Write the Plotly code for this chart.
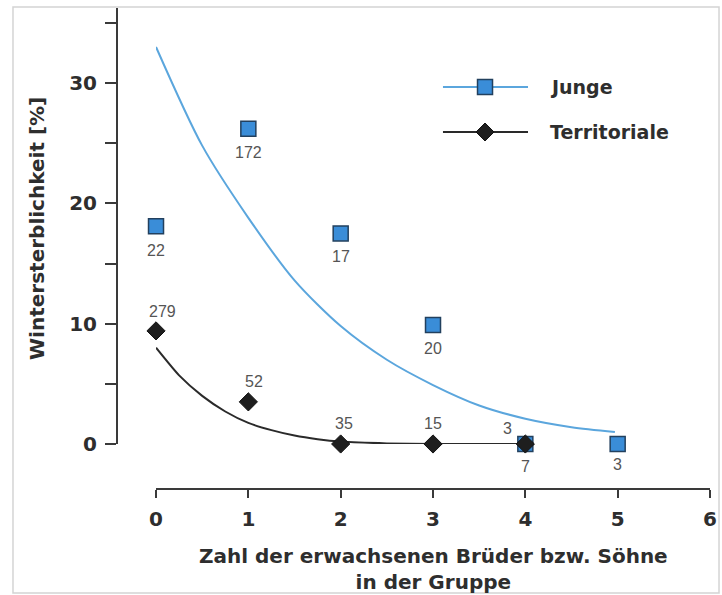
import plotly.graph_objects as go

# Winter mortality by number of adult brothers/sons in the group
group_size = [0, 1, 2, 3, 4, 5]

junge_mortality = [18.1, 26.2, 17.5, 9.9, 0.0, 0.0]
junge_n = [22, 172, 17, 20, 7, 3]

terr_size = [0, 1, 2, 3, 4]
terr_mortality = [9.4, 3.5, 0.0, 0.0, 0.0]
terr_n = [279, 52, 35, 15, 3]

# Fitted trend curves
junge_fit_x = [0, 0.5, 1, 1.5, 2, 2.5, 3, 3.5, 4, 4.5, 4.97]
junge_fit_y = [33.0, 24.8, 18.8, 13.6, 9.8, 7.0, 4.9, 3.2, 2.1, 1.4, 1.0]

terr_fit_x = [0, 0.25, 0.5, 0.75, 1, 1.25, 1.5, 1.75, 2, 2.5, 3, 3.5, 4]
terr_fit_y = [8.0, 5.7, 4.0, 2.7, 1.75, 1.15, 0.7, 0.4, 0.2, 0.05, 0.0, 0.0, 0.0]

x_ticks = [0, 1, 2, 3, 4, 5, 6]
y_ticks = [0, 5, 10, 15, 20, 25, 30, 35]
y_ticktext = ["0", "", "10", "", "20", "", "30", ""]

BLUE_LINE = "#5ba6dd"
BLUE_FILL = "#3a8dd8"
BLUE_EDGE = "#22405e"
DARK = "#1e1e1e"
AXIS = "#3a3a3a"
TEXT = "#2e2e2e"
BOLD = dict(family="DejaVu Sans", size=20, color=TEXT, weight="bold")

# label offsets in pixels (dx, dy)
junge_label_shift = [(0, -24), (0, -24), (0, -23), (0, -24), (0, -23), (0, -21)]
terr_label_shift = [(6, 19), (6, 20), (3, 20), (0, 20), (-18, 15)]

fig = go.Figure()

fig.add_trace(go.Scatter(
    x=junge_fit_x, y=junge_fit_y, mode="lines",
    line=dict(color=BLUE_LINE, width=2, shape="spline", smoothing=0.8),
    cliponaxis=False, hoverinfo="skip", showlegend=False))
fig.add_trace(go.Scatter(
    x=terr_fit_x, y=terr_fit_y, mode="lines",
    line=dict(color="#2a2a2a", width=2, shape="spline", smoothing=0.6),
    cliponaxis=False, hoverinfo="skip", showlegend=False))
fig.add_trace(go.Scatter(
    x=group_size, y=junge_mortality, mode="markers", name="Junge",
    marker=dict(symbol="square", size=15, color=BLUE_FILL,
                line=dict(color=BLUE_EDGE, width=1.5)),
    cliponaxis=False, showlegend=False))
fig.add_trace(go.Scatter(
    x=terr_size, y=terr_mortality, mode="markers", name="Territoriale",
    marker=dict(symbol="diamond", size=14, color=DARK,
                line=dict(color="#111111", width=1)),
    cliponaxis=False, showlegend=False))

label_font = dict(family="Liberation Sans", size=16, color="#555555")
for x, y, n, (dx, dy) in zip(group_size, junge_mortality, junge_n, junge_label_shift):
    fig.add_annotation(x=x, y=y, text=str(n), showarrow=False,
                       xshift=dx, yshift=dy, font=label_font)
for x, y, n, (dx, dy) in zip(terr_size, terr_mortality, terr_n, terr_label_shift):
    fig.add_annotation(x=x, y=y, text=str(n), showarrow=False,
                       xshift=dx, yshift=dy, font=label_font)

# axis titles
fig.add_annotation(xref="paper", yref="paper", x=-0.135, y=0.5426,
                   text="Wintersterblichkeit [%]", textangle=-90,
                   showarrow=False, xanchor="center", yanchor="middle", font=BOLD)
fig.add_annotation(xref="paper", yref="paper", x=0.533, y=-0.1663,
                   text="Zahl der erwachsenen Brüder bzw. Söhne<br>in der Gruppe",
                   showarrow=False, xanchor="center", yanchor="middle", font=BOLD)

# legend
leg_x0, leg_x1, leg_mid, leg_text = 0.5497, 0.6931, 0.6206, 0.7268
leg_rows = [("Junge", 0.8358), ("Territoriale", 0.7422)]
shapes = []
for (name, ly), col in zip(leg_rows, [BLUE_LINE, "#2a2a2a"]):
    shapes.append(dict(type="line", xref="paper", yref="paper",
                       x0=leg_x0, x1=leg_x1, y0=ly, y1=ly,
                       line=dict(color=col, width=2)))
    fig.add_annotation(xref="paper", yref="paper", x=leg_text, y=ly, text=name,
                       showarrow=False, xanchor="left", yanchor="middle",
                       font=dict(family="DejaVu Sans", size=19, color=TEXT, weight="bold"))
jy = leg_rows[0][1]
shapes.append(dict(type="rect", xref="paper", yref="paper",
                   xsizemode="pixel", ysizemode="pixel",
                   xanchor=leg_mid, yanchor=jy, x0=-7.5, x1=7.5, y0=-7.5, y1=7.5,
                   fillcolor=BLUE_FILL, line=dict(color=BLUE_EDGE, width=1.5)))
ty = leg_rows[1][1]
shapes.append(dict(type="path", xref="paper", yref="paper",
                   xsizemode="pixel", ysizemode="pixel",
                   xanchor=leg_mid, yanchor=ty,
                   path="M 0 9 L 9 0 L 0 -9 L -9 0 Z",
                   fillcolor=DARK, line=dict(color="#111111", width=1)))
# outer frame
shapes.append(dict(type="rect", xref="paper", yref="paper",
                   x0=-0.1754, x1=1.0152, y0=-0.2162, y1=1.0021,
                   line=dict(color="#d4d4d4", width=1.5), layer="below"))

fig.update_layout(
    width=722, height=595,
    margin=dict(l=117, r=12, t=8, b=106, autoexpand=False),
    paper_bgcolor="white", plot_bgcolor="white",
    shapes=shapes,
    xaxis=dict(domain=[0.0658, 1], range=[0, 6], anchor="free", position=0,
               showline=True, linecolor=AXIS, linewidth=2,
               ticks="outside", ticklen=8, tickwidth=2, tickcolor=AXIS,
               tickvals=x_ticks, tickfont=BOLD, ticklabelstandoff=4,
               showgrid=False, zeroline=False),
    yaxis=dict(domain=[0.0936, 1], range=[0, 36.24], anchor="free", position=0,
               showline=True, linecolor=AXIS, linewidth=2,
               ticks="outside", ticklen=11, tickwidth=2, tickcolor=AXIS,
               tickvals=y_ticks, ticktext=y_ticktext, tickfont=BOLD,
               ticklabelstandoff=4, showgrid=False, zeroline=False),
)

fig.write_html("out.html")
